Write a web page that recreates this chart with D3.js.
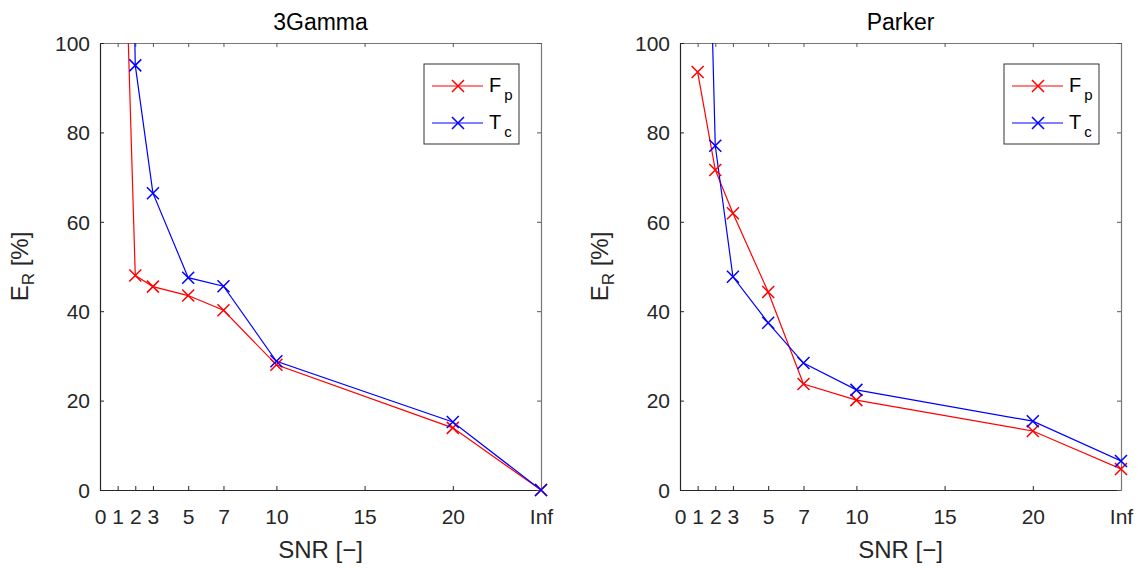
<!DOCTYPE html>
<html><head><meta charset="utf-8">
<script src="https://cdn.jsdelivr.net/npm/d3@7"></script>
<style>body{margin:0;background:#fff}svg{display:block;font-family:"Liberation Sans",Arial,sans-serif}</style>
</head><body>
<svg id="c" width="1144" height="568"></svg>
<script>
// ---- data ----
const xTickValues = [0, 1, 2, 3, 5, 7, 10, 15, 20, 25];
const xTickLabels = ["0", "1", "2", "3", "5", "7", "10", "15", "20", "Inf"];
const yTickValues = [0, 20, 40, 60, 80, 100];
const snr = [1, 2, 3, 5, 7, 10, 20, 25];           // 25 = "Inf" position
const gammaFp = [180, 48, 45.5, 43.5, 40.2, 28, 13.9, 0];
const gammaTc = [300, 95, 66.4, 47.5, 45.6, 28.8, 15.2, 0];
const parkerFp = [93.5, 71.6, 61.9, 44.3, 23.7, 20.1, 13.2, 4.7];
const parkerTc = [230, 77, 47.7, 37.4, 28.4, 22.4, 15.4, 6.5];
const titles = ["3Gamma", "Parker"];
const seriesNames = [["F", "p"], ["T", "c"]];
const colors = ["#ff0000", "#0000ff"];

const panels = [
  {title: titles[0], left: 100, series: [gammaFp, gammaTc]},
  {title: titles[1], left: 680, series: [parkerFp, parkerTc]}
];

const svg = d3.select("#c");
const W = 441, plotTop = 43, plotBottom = 490;
const axisCol = "#262626";

panels.forEach((p, pi) => {
  const x = d3.scaleLinear().domain([0, 25]).range([p.left, p.left + W]);
  const y = d3.scaleLinear().domain([0, 100]).range([plotBottom, plotTop]);
  const g = svg.append("g");
  const clipId = "clip" + pi;
  svg.append("clipPath").attr("id", clipId).append("rect")
    .attr("x", p.left).attr("y", plotTop).attr("width", W).attr("height", plotBottom - plotTop);

  // axes (drawn first, data on top)
  const xb = g.append("g").attr("transform", `translate(0,${plotBottom})`)
    .call(d3.axisBottom(x).tickValues(xTickValues).tickFormat((d, i) => xTickLabels[i]).tickSizeInner(-4).tickSizeOuter(0).tickPadding(19));
  const xt = g.append("g").attr("transform", `translate(0,${plotTop})`)
    .call(d3.axisTop(x).tickValues(xTickValues).tickFormat("").tickSizeInner(-4).tickSizeOuter(0));
  const yl = g.append("g").attr("transform", `translate(${p.left},0)`)
    .call(d3.axisLeft(y).tickValues(yTickValues).tickSizeInner(-4).tickSizeOuter(0).tickPadding(10));
  const yr = g.append("g").attr("transform", `translate(${p.left + W},0)`)
    .call(d3.axisRight(y).tickValues(yTickValues).tickFormat("").tickSizeInner(-4).tickSizeOuter(0));
  [xb, yl].forEach(a => {
    a.select(".domain").attr("stroke", axisCol).attr("stroke-width", 1.2);
    a.selectAll(".tick line").attr("stroke", axisCol);
    a.selectAll("text").attr("fill", axisCol).style("font-size", "21px").style("font-family", '"Liberation Sans",Arial,sans-serif');
  });
  [xt, yr].forEach(a => {
    a.select(".domain").attr("stroke", "#777").attr("stroke-width", 1.2);
    a.selectAll(".tick line").attr("stroke", "#555");
  });
  xb.selectAll("text").attr("dy", "0.71em");
  yl.selectAll("text").attr("dy", "0.35em");

  // data lines (clipped to the axes box)
  const dg = g.append("g").attr("clip-path", `url(#${clipId})`);
  const mg = g.append("g");
  p.series.forEach((vals, si) => {
    const pts = snr.map((s, i) => [s, vals[i]]);
    dg.append("path").datum(pts)
      .attr("d", d3.line().x(d => x(d[0])).y(d => y(d[1])))
      .attr("fill", "none").attr("stroke", colors[si]).attr("stroke-width", 1.2);
    // markers: shown whole when their centre lies inside the axes
    pts.filter(d => d[1] <= 100 && d[1] >= 0).forEach(d => {
      const cx = x(d[0]), cy = y(d[1]), r = 6;
      mg.append("path")
        .attr("d", `M${cx - r},${cy - r}L${cx + r},${cy + r}M${cx - r},${cy + r}L${cx + r},${cy - r}`)
        .attr("stroke", colors[si]).attr("stroke-width", 1.5);
    });
  });

  // title
  g.append("text").attr("x", p.left + W / 2).attr("y", 30).attr("text-anchor", "middle")
    .attr("fill", "#000").style("font-size", "23px").text(p.title);
  // x label
  g.append("text").attr("x", p.left + W / 2).attr("y", 558).attr("text-anchor", "middle")
    .attr("fill", axisCol).style("font-size", "24px").text("SNR [\u2212]");
  // y label
  const ylab = g.append("text").attr("transform", `translate(${p.left - 72},${(plotTop + plotBottom) / 2}) rotate(-90)`)
    .attr("text-anchor", "middle").attr("fill", axisCol).style("font-size", "24px");
  ylab.append("tspan").text("E");
  ylab.append("tspan").attr("dy", 6).style("font-size", "17px").text("R");
  ylab.append("tspan").attr("dy", -6).text(" [%]");

  // legend
  const lx = p.left + W - 117, ly = 64, lw = 95, lh = 80;
  const lg = g.append("g");
  lg.append("rect").attr("x", lx).attr("y", ly).attr("width", lw).attr("height", lh)
    .attr("fill", "#fff").attr("stroke", "#333").attr("stroke-width", 1);
  seriesNames.forEach((nm, si) => {
    const yy = ly + 22 + si * 37;
    lg.append("line").attr("x1", lx + 8).attr("x2", lx + 59).attr("y1", yy).attr("y2", yy)
      .attr("stroke", colors[si]).attr("stroke-width", 1.2);
    const cx = lx + 34, r = 6;
    lg.append("path").attr("d", `M${cx - r},${yy - r}L${cx + r},${yy + r}M${cx - r},${yy + r}L${cx + r},${yy - r}`)
      .attr("stroke", colors[si]).attr("stroke-width", 1.5);
    const t = lg.append("text").attr("x", lx + 65).attr("y", yy + 6).attr("fill", "#000").style("font-size", "20px");
    t.append("tspan").text(nm[0]);
    t.append("tspan").attr("dx", 3).attr("dy", 8).style("font-size", "15px").text(nm[1]);
  });
});
</script>
</body></html>
